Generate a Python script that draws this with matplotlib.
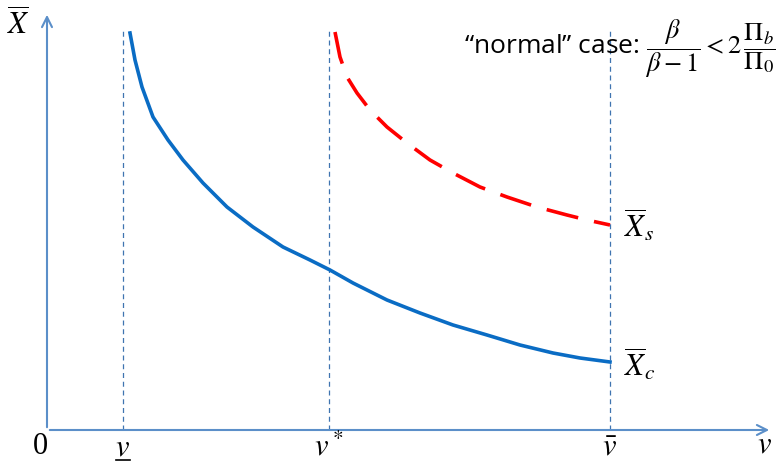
import matplotlib.pyplot as plt

plt.rcParams['mathtext.fontset'] = 'stix'

# 数据 (横轴 v, 纵轴 X̄, 任意单位)
v_lo, v_star, v_hi = 76, 282, 563
xc_v = [83, 88, 95, 106, 121, 136, 156, 180, 206, 236, 263, 283, 306, 340,
        373, 406, 440, 473, 506, 533, 563]
xc_x = [397, 370, 343, 313, 290, 270, 247, 223, 203, 183, 170, 160, 147, 130,
        117, 105, 95, 85, 77, 72, 68]
xs_v = [288, 293, 300, 310, 323, 340, 360, 383, 406, 433, 460, 490, 520, 540, 563]
xs_x = [398, 373, 353, 337, 320, 303, 287, 270, 257, 243, 233, 223, 215, 210, 205]

fig = plt.figure(figsize=(7.78, 4.63), dpi=100)
ax = fig.add_axes([0, 0, 1, 1])
ax.set_xlim(-47, 731)
ax.set_ylim(-33, 430)
ax.axis('off')

axis_col = '#5b8fc9'
# 坐标轴箭头
ax.annotate('', xy=(725, 0), xytext=(0, 0),
            arrowprops=dict(arrowstyle='->', color=axis_col, lw=1.5, mutation_scale=18))
ax.annotate('', xy=(0, 418), xytext=(0, 0),
            arrowprops=dict(arrowstyle='->', color=axis_col, lw=1.5, mutation_scale=18))

# 竖直虚线
for v in (v_lo, v_star, v_hi):
    ax.plot([v, v], [0, 402], ls=(0, (4, 3)), color='#3f74b0', lw=0.9)

# 曲线
ax.plot(xc_v, xc_x, color='#0a6cc4', lw=2.6, solid_joinstyle='round')
ax.plot(xs_v, xs_x, color='#ff0000', lw=2.6, ls=(0, (9, 4.5)))

serif = dict(fontsize=22, ha='center', va='center')
ax.text(-7, -17, '0', family='Liberation Serif', **serif)
ax.text(v_lo, -17, '$v$', **serif)
ax.plot([v_lo - 7, v_lo + 7], [-30, -30], color='black', lw=1.2)
ax.text(v_star, -17, '$v^*$', **serif)
ax.text(v_hi, -17, r'$\bar{v}$', **serif)
ax.text(718, -14, '$v$', **serif)
ax.text(-29, 406, r'$\overline{X}$', **serif)
ax.text(577, 205, r'$\overline{X}_s$', ha='left', va='center', fontsize=22)
ax.text(577, 66, r'$\overline{X}_c$', ha='left', va='center', fontsize=22)

ax.text(729, 381, r'“normal” case: $\dfrac{\beta}{\beta-1} < 2\,\dfrac{\Pi_b}{\Pi_0}$',
        family='Open Sans', fontsize=19, ha='right', va='center')

fig.savefig('out.png', dpi=100)
